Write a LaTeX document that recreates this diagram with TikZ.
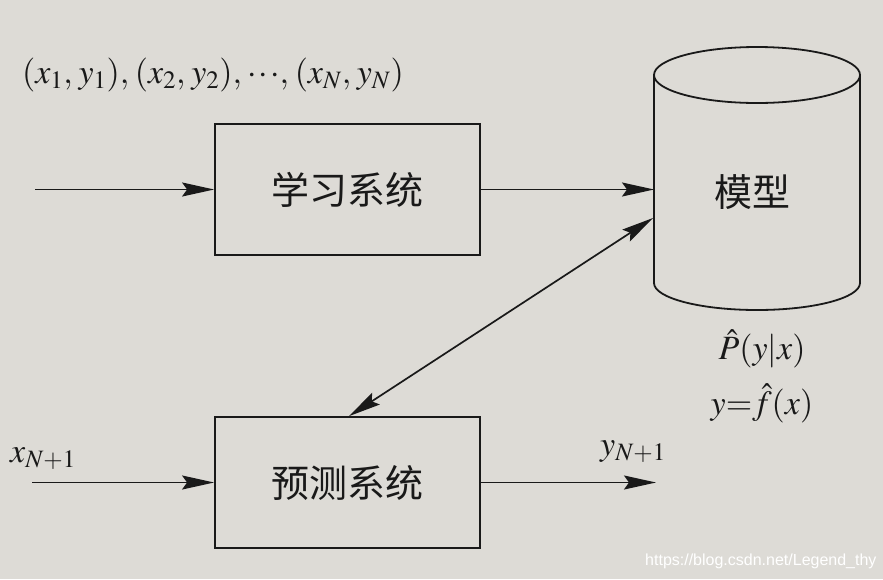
\documentclass[tikz,border=0pt]{standalone}
\usepackage{mathptmx}
\usepackage{fontspec}
\setmainfont{Liberation Serif}
\newfontfamily\cjk{Noto Sans CJK SC}
\newfontfamily\wmfont{Liberation Sans}
\usetikzlibrary{arrows.meta}
\DeclareMathSizes{34}{34}{25}{19}
\definecolor{paper}{RGB}{221,219,214}
\definecolor{ink}{RGB}{25,25,25}
\newcommand{\tdots}{\mathord{\cdotp\mkern-1mu\cdotp\mkern-1mu\cdotp}}
\newcommand{\cm}{{,}\mkern3mu}
\begin{document}
\begin{tikzpicture}[x=1pt,y=-1pt,
  sysbox/.style={draw=ink, line width=1.8pt, minimum width=265pt, minimum height=131pt, inner sep=0pt, font=\cjk\fontsize{38}{40}\selectfont, text=ink},
  tip/.tip={Stealth[length=32pt,width=14pt,inset=5pt]},
  conn/.style={draw=ink, line width=1.7pt, -tip},
  lbl/.style={text=ink, font=\fontsize{34}{55}\selectfont, inner sep=0pt}
]
\fill[paper] (0,0) rectangle (883,579);
\useasboundingbox (0,0) rectangle (883,579);

% boxes
\node[sysbox] (learn) at (347.5,189.5) {学习系统};
\node[sysbox] (predict) at (347.5,482.5) {预测系统};

% cylinder (model)
\draw[ink, line width=1.8pt] (654,75) -- (654,283) arc[start angle=180, end angle=360, x radius=103pt, y radius=27pt] -- (860,75);
\draw[ink, line width=1.8pt] (757,75) ellipse[x radius=103pt, y radius=28pt];
\node[text=ink, font=\cjk\fontsize{38}{40}\selectfont] (model) at (752,192) {模型};
\coordinate (mleft1) at (654,189.5);
\coordinate (mleft2) at (653,218);

% inputs / outputs
\coordinate (in1) at (35,189.5);
\coordinate (in2) at (32,482.5);
\coordinate (out2) at (656,482.5);

\draw[conn] (in1) -- (learn.west);
\draw[conn] (learn.east) -- (mleft1);
\draw[draw=ink, line width=1.7pt, tip-tip] (mleft2) -- ([xshift=135pt]predict.north west);
\draw[conn] (in2) -- (predict.west);
\draw[conn] (predict.east) -- (out2);

% labels
\node[lbl, anchor=base west] (data) at (22,83) {$(x_1\cm y_1)\cm(x_2\cm y_2)\cm\tdots\cm(x_N\cm y_N)$};
\node[lbl, anchor=base west] (xn) at (10,462) {$x_{N+1}$};
\node[lbl, anchor=base west] (yn) at (600,455) {$y_{N+1}$};
\node[lbl, align=center, anchor=base] (law) at (762,414) {$\hat{P}(y|x)$\\$y{=}\hat{f}(x)$};

% watermark
\node[text=white, font=\wmfont\fontsize{16}{18}\selectfont, anchor=base west, inner sep=0pt] (wm) at (645,565) {https://blog.csdn.net/Legend\_thy};
\end{tikzpicture}
\end{document}
